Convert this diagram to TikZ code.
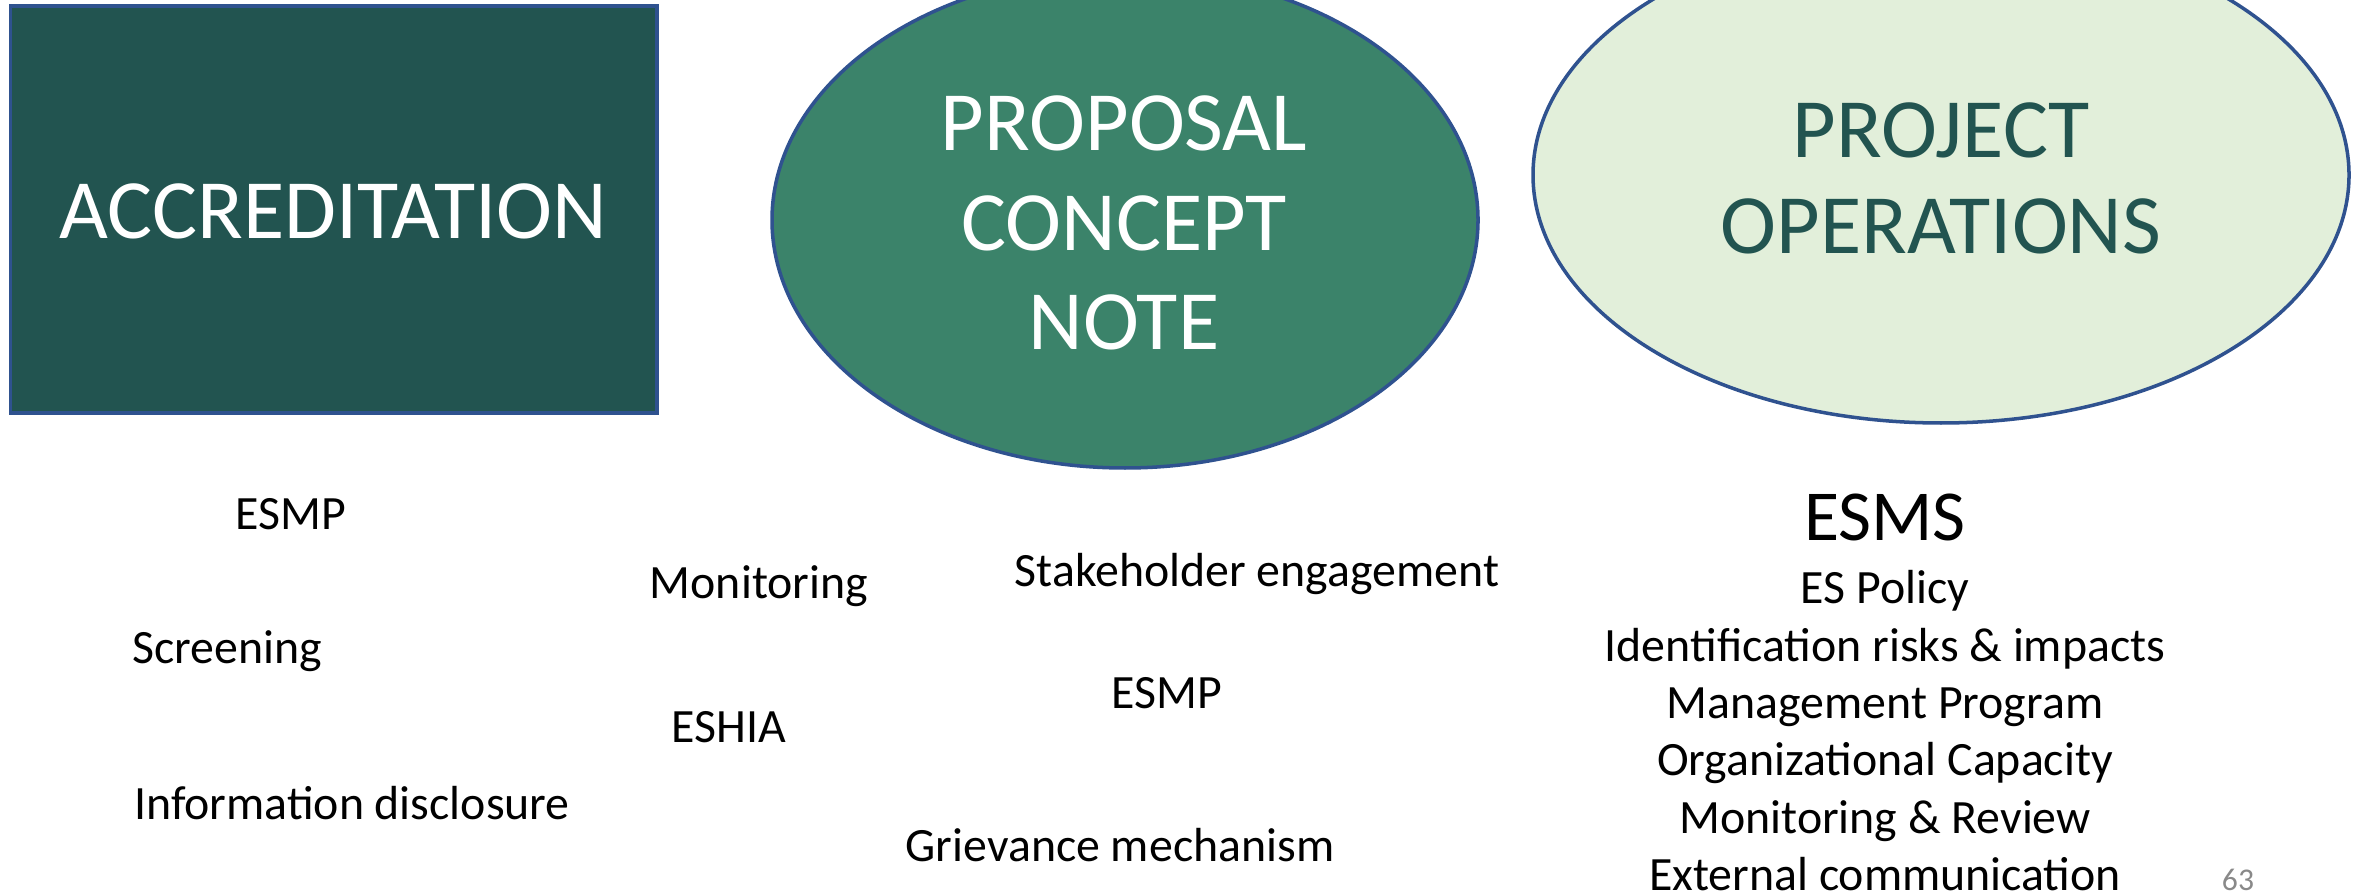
\documentclass[tikz,border=0pt]{standalone}
\usepackage{fontspec}
\setmainfont{Carlito}
\usepackage{tikz}
\definecolor{accr}{RGB}{34,84,80}
\definecolor{prop}{RGB}{59,131,106}
\definecolor{oper}{RGB}{226,239,218}
\definecolor{edge}{RGB}{47,82,143}
\definecolor{pagenum}{RGB}{137,137,137}

\begin{document}
\begin{tikzpicture}[x=0.01cm, y=-0.01cm,
    stage/.style={draw=edge, line width=1},
    title/.style={align=center, font=\fontsize{24}{28.4}\selectfont},
    item/.style={font=\fontsize{13.6}{16}\selectfont}]
        \clip (0,0) rectangle (2361,895);
        \draw[stage, fill=accr] (10.5,6) rectangle (657,413);
        \draw[stage, fill=prop] (1125,220) ellipse[x radius=353, y radius=248];
        \draw[stage, fill=oper] (1941,175) ellipse[x radius=408, y radius=248];
        \node[title, white] (accreditation) at (333,211) {ACCREDITATION};
        \node[title, white] (proposal) at (1124,223) {PROPOSAL\\CONCEPT\\NOTE};
        \node[title, accr, font=\fontsize{24}{27.3}\selectfont] (operations) at (1941,178) {PROJECT\\OPERATIONS};
        % accreditation
        \node[item] (esmpA) at (291,514) {ESMP};
        \node[item] (screening) at (227,651) {Screening};
        \node[item] (disclosure) at (352,803) {Information disclosure};
        % proposal
        \node[item] (monitoring) at (759,586) {Monitoring};
        \node[item] (eshia) at (729,727) {ESHIA};
        \node[item] (stakeholder) at (1257,574) {Stakeholder engagement};
        \node[item] (esmpB) at (1167,693) {ESMP};
        \node[item] (grievance) at (1120,845) {Grievance mechanism};
        % operations
        \node[font=\fontsize{20.4}{24}\selectfont] (esms) at (1885,517) {ESMS};
        \node[item, align=center, font=\fontsize{13.6}{16.3}\selectfont, anchor=north, inner sep=0pt] (esmslist) at (1885,570)
            {ES Policy\\Identification risks \& impacts\\Management Program\\Organizational Capacity\\Monitoring \& Review\\External communication};
        \node[pagenum, font=\fontsize{9}{10}\selectfont, inner sep=0pt] (page) at (2238,880) {63};
    \end{tikzpicture}
\end{document}
